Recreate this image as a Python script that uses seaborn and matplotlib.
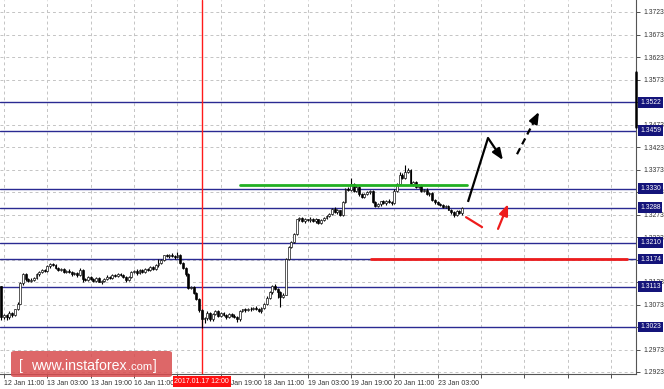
import numpy as np
import matplotlib
matplotlib.use("Agg")
import matplotlib.pyplot as plt
import matplotlib.transforms as mtransforms
from matplotlib.patches import FancyBboxPatch
import seaborn as sns

# ---------------- data ----------------
first_open = 1.3115
closes = [
    1.3045, 1.3050, 1.3045, 1.3055, 1.3050, 1.3062, 1.3075, 1.3120, 1.3140, 1.3130,
    1.3125, 1.3128, 1.3132, 1.3140, 1.3145, 1.3150, 1.3148, 1.3158, 1.3163, 1.3160,
    1.3155, 1.3150, 1.3152, 1.3146, 1.3148, 1.3145, 1.3140, 1.3143, 1.3138, 1.3150,
    1.3130, 1.3128, 1.3135, 1.3130, 1.3126, 1.3132, 1.3124, 1.3125, 1.3130, 1.3135,
    1.3132, 1.3138, 1.3136, 1.3140, 1.3138, 1.3134, 1.3128, 1.3135, 1.3145, 1.3148,
    1.3142, 1.3150, 1.3146, 1.3152, 1.3150, 1.3156, 1.3152, 1.3160, 1.3165, 1.3172,
    1.3182, 1.3180, 1.3184, 1.3181, 1.3178, 1.3183, 1.3165, 1.3155, 1.3140, 1.3110,
    1.3112, 1.3098, 1.3085, 1.3060, 1.3040, 1.3042, 1.3055, 1.3040, 1.3052, 1.3058,
    1.3048, 1.3054, 1.3050, 1.3045, 1.3052, 1.3048, 1.3046, 1.3040, 1.3058, 1.3062,
    1.3060, 1.3064, 1.3062, 1.3066, 1.3063, 1.3058, 1.3065, 1.3075, 1.3088, 1.3100,
    1.3115, 1.3108, 1.3100, 1.3090, 1.3095, 1.3175, 1.3200, 1.3212, 1.3230, 1.3262,
    1.3265, 1.3258, 1.3262, 1.3260, 1.3264, 1.3258, 1.3262, 1.3255, 1.3260, 1.3266,
    1.3270, 1.3275, 1.3285, 1.3278, 1.3282, 1.3272, 1.3300, 1.3330, 1.3328, 1.3340,
    1.3325, 1.3335, 1.3318, 1.3312, 1.3318, 1.3322, 1.3325, 1.3300, 1.3292, 1.3296,
    1.3302, 1.3298, 1.3304, 1.3300, 1.3298, 1.3325, 1.3340, 1.3360, 1.3355, 1.3368,
    1.3372, 1.3340, 1.3345, 1.3335, 1.3338, 1.3325, 1.3328, 1.3318, 1.3320, 1.3305,
    1.3300, 1.3296, 1.3294, 1.3290, 1.3292, 1.3284, 1.3278, 1.3272, 1.3280, 1.3276,
    1.3288]
# wick lengths in pips (0.0001)
upper_wick = [
    0, 3, 2, 3, 2, 2, 3, 4, 3, 2,  2, 3, 2, 3, 2, 3, 2, 3, 2, 3,
    2, 2, 3, 2, 2, 3, 2, 2, 3, 4,  2, 3, 2, 2, 3, 2, 2, 3, 2, 3,
    2, 3, 2, 3, 2, 2, 3, 2, 3, 2,  3, 2, 3, 2, 3, 2, 3, 2, 10, 3,
    2, 3, 2, 3, 2, 7, 2, 3, 2, 3,  2, 3, 2, 3, 2, 4, 3, 2, 3, 2,
    3, 2, 3, 2, 3, 2, 3, 2, 3, 2,  3, 2, 3, 2, 3, 2, 3, 2, 3, 4,
    2, 3, 2, 3, 4, 2, 3, 2, 3, 2,  3, 2, 3, 2, 3, 2, 3, 2, 3, 2,
    3, 2, 3, 4, 3, 2, 3, 2, 4, 14, 3, 3, 2, 3, 2, 3, 2, 3, 2, 3,
    2, 3, 2, 3, 2, 4, 3, 8, 5, 15, 4, 3, 2, 3, 2, 3, 2, 3, 2, 3,
    2, 3, 2, 3, 2, 3, 2, 3, 2, 3,  2]
lower_wick = [
    6, 5, 6, 4, 5, 3, 2, 2, 3, 4,  3, 2, 3, 2, 3, 2, 3, 2, 3, 2,
    3, 2, 3, 2, 3, 2, 3, 2, 3, 2,  8, 3, 2, 3, 2, 3, 2, 6, 2, 3,
    2, 3, 2, 3, 2, 3, 5, 2, 3, 2,  3, 2, 3, 2, 3, 2, 3, 2, 3, 2,
    3, 2, 3, 2, 3, 2, 3, 2, 4, 3,  3, 2, 3, 4, 19, 8, 3, 4, 3, 2,
    3, 2, 3, 4, 3, 2, 3, 5, 3, 2,  3, 2, 3, 2, 3, 2, 3, 2, 3, 2,
    3, 2, 12, 22, 3, 2, 3, 2, 3, 2, 3, 2, 3, 2, 3, 2, 3, 2, 3, 2,
    3, 2, 3, 2, 3, 2, 3, 2, 3, 2,  3, 2, 3, 2, 3, 2, 3, 2, 3, 2,
    3, 2, 3, 2, 3, 2, 3, 2, 3, 2,  3, 2, 3, 2, 3, 2, 3, 2, 3, 2,
    3, 2, 3, 2, 3, 2, 5, 5, 3, 2,  3]

x_tick_bars = [1, 17, 33, 49, 65, 81, 97, 113, 129, 145, 161, 177, 193, 209, 225]
x_tick_labels = ["12 Jan 11:00", "13 Jan 03:00", "13 Jan 19:00", "16 Jan 11:00",
                 "", "17 Jan 19:00", "18 Jan 11:00", "19 Jan 03:00",
                 "19 Jan 19:00", "20 Jan 11:00", "23 Jan 03:00", "", "", "", ""]
y_ticks = [1.2923, 1.2973, 1.3023, 1.3073, 1.3123, 1.3173, 1.3223, 1.3273, 1.3323,
           1.3373, 1.3423, 1.3473, 1.3523, 1.3573, 1.3623, 1.3673, 1.3723]
y_hidden = [1.3023, 1.3173, 1.3523]   # tick labels fully covered by level boxes
levels = [1.3522, 1.3459, 1.3330, 1.3288, 1.3210, 1.3174, 1.3113, 1.3023]
green_level = 1.3339
green_span = [88, 172]
red_level = 1.3174
red_span = [136.4, 231]
marker_bar = 74
marker_label = "2017.01.17 12:00"
right_bar = [1.3590, 1.3467]
# forecast arrows (bar index, price)
black_path = [(172.2, 1.3301), (179.6, 1.3443), (185.1, 1.3394)]
black_dash = [(190.3, 1.3407), (198.4, 1.3501)]
red_line = [(171.5, 1.3267), (177.4, 1.3245)]
red_arrow = [(183.3, 1.3241), (187.0, 1.3296)]

# ---------------- style ----------------
sns.set_theme(style="white")
plt.rcParams["font.family"] = ["Liberation Sans", "DejaVu Sans"]

W, H = 664, 389
fig = plt.figure(figsize=(W / 100, H / 100), dpi=100)
fig.patch.set_facecolor("white")
ax = fig.add_axes([0, (H - 374) / H, 636 / W, 374 / H])
ax.set_facecolor("white")

px_per_bar = 2.71
x0 = 1.3
ax.set_xlim((0 - x0) / px_per_bar, (636 - x0) / px_per_bar)
ppu = 4500.0
ax.set_ylim(1.3723 - (374 - 12) / ppu, 1.3723 + 12 / ppu)

# grid
for xt in x_tick_bars:
    ax.axvline(xt, color="#c4c4c4", lw=0.7, ls=(0, (3, 3)), zorder=0)
for yt in y_ticks:
    ax.axhline(yt, color="#c4c4c4", lw=0.7, ls=(0, (3, 3)), zorder=0)

# level lines
for lv in levels:
    ax.axhline(lv, color="#2a2a92", lw=1.0, zorder=1)

# candles
n = len(closes)
xs = np.arange(n)
c = np.array(closes)
o = np.concatenate([[first_open], c[:-1]])
hi = np.maximum(o, c) + np.array(upper_wick) * 1e-4
lo = np.minimum(o, c) - np.array(lower_wick) * 1e-4
ax.vlines(xs, lo, hi, color="black", lw=0.8, zorder=3)
body_bottom = np.minimum(o, c)
body_h = np.maximum(np.abs(c - o), 0.00012)
colors = ["white" if cc > oo else "black" for oo, cc in zip(o, c)]
ax.bar(xs, body_h, bottom=body_bottom, width=0.7, color=colors,
       edgecolor="black", linewidth=0.45, zorder=4)

# green / red horizontal segments
ax.plot(green_span, [green_level, green_level], color="#22b022", lw=2.0, zorder=5)
ax.plot(red_span, [red_level, red_level], color="#ee1c1c", lw=2.0, zorder=5)

# red vertical line
ax.axvline(marker_bar, color="#ff1a1a", lw=1.0, zorder=2)

# arrows
head = "-|>,head_length=0.55,head_width=0.22"
ax.plot([p[0] for p in black_path[:2]], [p[1] for p in black_path[:2]],
        color="black", lw=1.6, zorder=6, solid_capstyle="butt")
ax.annotate("", xy=black_path[2], xytext=black_path[1],
            arrowprops=dict(arrowstyle=head, color="black", lw=1.6,
                            shrinkA=0, shrinkB=0, mutation_scale=12), zorder=6)
dx = black_dash[1][0] - black_dash[0][0]
dy = black_dash[1][1] - black_dash[0][1]
mid = (black_dash[0][0] + 0.72 * dx, black_dash[0][1] + 0.72 * dy)
ax.plot([black_dash[0][0], mid[0]], [black_dash[0][1], mid[1]],
        color="black", lw=1.6, ls=(0, (3, 2)), zorder=6)
ax.annotate("", xy=black_dash[1], xytext=mid,
            arrowprops=dict(arrowstyle=head, color="black", lw=1.6,
                            shrinkA=0, shrinkB=0, mutation_scale=12), zorder=6)
ax.plot([p[0] for p in red_line], [p[1] for p in red_line],
        color="#ee1c1c", lw=1.6, zorder=6)
ax.annotate("", xy=red_arrow[1], xytext=red_arrow[0],
            arrowprops=dict(arrowstyle=head, color="#ee1c1c", lw=1.6,
                            shrinkA=0, shrinkB=0, mutation_scale=12), zorder=6)

# axes / ticks
for s in ["left", "top"]:
    ax.spines[s].set_visible(False)
for s in ["right", "bottom"]:
    ax.spines[s].set_color("#555555")
    ax.spines[s].set_linewidth(0.8)
ax.yaxis.tick_right()
ax.set_yticks(y_ticks)
ax.set_yticklabels(["" if v in y_hidden else f"{v:.4f}" for v in y_ticks])
ax.tick_params(axis="y", direction="out", length=3, width=0.6, pad=2,
               labelsize=4.9, colors="#333333", right=True, left=False)
ax.set_xticks(x_tick_bars)
ax.set_xticklabels(x_tick_labels)
ax.tick_params(axis="x", direction="out", length=3, width=0.6, pad=1.2,
               labelsize=5.0, colors="#333333", bottom=True)
for lbl in ax.get_xticklabels():
    lbl.set_ha("left")

# level boxes on the right scale
ytrans = mtransforms.blended_transform_factory(ax.transAxes, ax.transData)
for lv in levels:
    ax.text(1.0 + 4 / 636, lv, f"{lv:.4f}", transform=ytrans, color="white",
            fontsize=4.9, va="center", ha="left", clip_on=False, zorder=10,
            bbox=dict(boxstyle="square,pad=0.28", fc="#14147a", ec="none"))

# black marker on right edge
ax.plot([1.0, 1.0], right_bar, transform=ytrans, color="black", lw=1.8,
        clip_on=False, zorder=10)

# red date label
xtrans = mtransforms.blended_transform_factory(ax.transData, ax.transAxes)
ax.text(marker_bar, -7.5 / 374, marker_label, transform=xtrans, color="white",
        fontsize=5.0, ha="center", va="center", clip_on=False, zorder=10,
        bbox=dict(boxstyle="square,pad=0.25", fc="#ff1010", ec="none"))

# watermark
wm = FancyBboxPatch((11 / W, (H - 377) / H), 161 / W, 26 / H,
                    boxstyle="round,pad=0,rounding_size=0.005",
                    transform=fig.transFigure, fc="#d84c4e", ec="none",
                    alpha=0.85, zorder=20)
fig.patches.append(wm)
ty = (H - 366) / H
fig.text(19 / W, ty, "[", color="white", fontsize=10, ha="left", va="center",
         zorder=21, family=["Liberation Sans"], fontweight="light")
fig.text(31 / W, ty, "www.instaforex", color="white", fontsize=10.2, ha="left",
         va="center", zorder=21, family=["Liberation Sans"])
fig.text(128 / W, ty - 0.5 / H, ".com", color="white", fontsize=8, ha="left",
         va="center", zorder=21, family=["Liberation Sans"])
fig.text(153 / W, ty, "]", color="white", fontsize=10, ha="left", va="center",
         zorder=21, family=["Liberation Sans"])

fig.savefig("out.png", dpi=100, facecolor="white")
